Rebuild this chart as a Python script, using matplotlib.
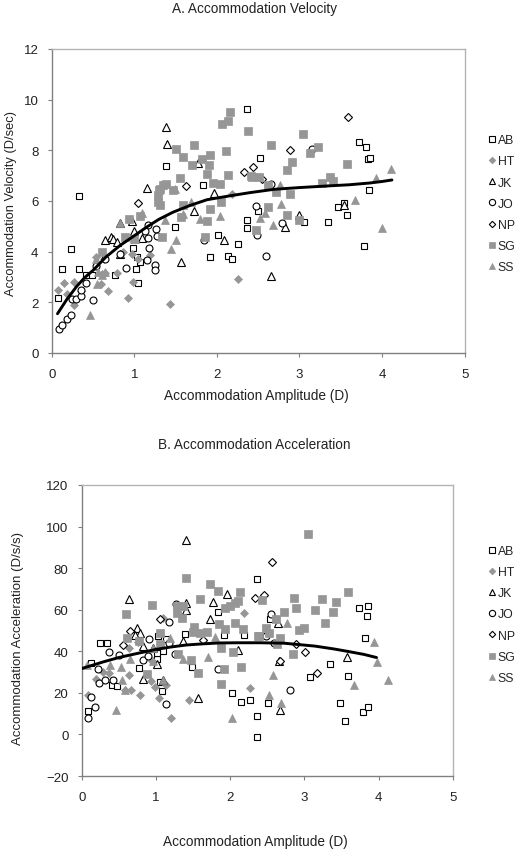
import matplotlib
matplotlib.use('Agg')
import matplotlib.pyplot as plt

plt.rcParams['font.family'] = ['Liberation Sans', 'DejaVu Sans']

names = ['AB', 'HT', 'JK', 'JO', 'NP', 'SG', 'SS']

# Panel A, velocity
a_ab_x = [0.08, 0.13, 0.23, 0.33, 0.33, 0.42, 0.49, 0.77, 0.98, 1.02, 1.05, 1.03, 1.07, 1.38, 1.49, 1.83, 1.92, 2.01, 2.13, 2.18, 2.26, 2.36, 2.36, 2.36, 2.52, 2.50, 3.47, 3.54, 3.58, 3.06, 3.34, 3.78, 3.84, 3.72, 3.81, 3.83, 3.85]
a_ab_y = [2.17, 3.33, 4.09, 6.18, 3.33, 3.09, 3.07, 3.09, 4.16, 3.33, 2.75, 3.79, 3.59, 7.39, 4.96, 6.63, 3.80, 4.64, 3.84, 3.72, 4.32, 5.25, 4.93, 9.62, 7.70, 5.60, 5.75, 5.93, 5.46, 5.16, 5.18, 4.21, 6.45, 8.34, 8.12, 7.64, 7.70]
a_ht_x = [0.08, 0.15, 0.27, 0.19, 0.27, 0.36, 0.54, 0.63, 0.68, 0.65, 0.79, 0.60, 0.93, 0.99, 1.43, 2.26, 0.86, 0.97, 1.05, 1.19, 2.18, 0.61]
a_ht_y = [2.49, 2.76, 2.80, 2.34, 1.91, 2.45, 3.79, 3.72, 2.43, 3.16, 3.16, 2.74, 2.18, 2.79, 1.93, 2.91, 3.99, 3.92, 3.72, 3.86, 6.26, 3.13]
a_jk_x = [0.64, 0.72, 0.74, 0.79, 0.83, 0.83, 1.00, 1.09, 1.16, 1.39, 1.40, 1.57, 1.72, 1.77, 1.96, 2.09, 0.97, 2.66, 2.83, 3.54, 3.00]
a_jk_y = [4.46, 4.58, 4.49, 4.37, 5.13, 3.92, 4.80, 4.54, 6.53, 8.92, 8.25, 3.61, 5.62, 7.50, 6.30, 4.46, 5.20, 3.03, 4.99, 5.83, 5.43]
a_jo_x = [0.09, 0.13, 0.18, 0.23, 0.25, 0.30, 0.36, 0.36, 0.42, 0.50, 0.54, 0.65, 0.90, 0.83, 1.18, 1.15, 1.25, 1.25, 1.26, 1.28, 1.17, 1.17, 1.13, 1.84, 2.47, 2.66, 2.79, 2.49, 2.59, 3.15]
a_jo_y = [0.93, 1.11, 1.36, 1.51, 2.12, 2.14, 2.26, 2.47, 2.76, 2.09, 3.43, 3.72, 3.37, 3.92, 4.16, 3.66, 3.49, 3.26, 4.88, 4.62, 4.54, 5.04, 4.80, 4.45, 5.79, 6.68, 5.12, 4.64, 3.83, 8.06]
a_np_x = [1.05, 1.63, 2.33, 2.44, 2.55, 2.88, 3.59]
a_np_y = [5.93, 6.58, 7.16, 7.36, 6.86, 8.03, 9.32]
a_sg_x = [0.94, 1.07, 0.89, 1.00, 0.61, 1.34, 1.86, 1.88, 1.92, 2.05, 1.57, 1.59, 1.55, 1.30, 1.29, 1.31, 1.39, 1.47, 1.50, 1.59, 1.72, 1.70, 1.82, 1.90, 1.92, 2.11, 1.88, 2.13, 1.95, 2.04, 2.06, 2.13, 2.16, 2.38, 2.41, 2.66, 3.04, 3.22, 3.13, 2.91, 2.85, 3.58, 2.42, 2.51, 2.62, 2.72, 2.88, 3.27, 3.37, 3.41, 2.62, 2.85, 2.99, 2.47, 1.29, 1.31, 1.35]
a_sg_y = [5.28, 5.39, 4.58, 4.51, 3.99, 4.57, 4.57, 5.22, 5.68, 5.95, 5.36, 5.86, 6.91, 6.42, 5.96, 5.83, 6.67, 6.42, 8.05, 7.75, 8.20, 7.43, 7.64, 7.41, 7.82, 7.97, 7.05, 7.03, 6.72, 6.66, 9.03, 9.17, 9.53, 8.75, 6.97, 8.22, 8.64, 8.14, 7.88, 7.54, 7.21, 7.45, 6.95, 6.95, 6.62, 6.36, 6.28, 6.72, 6.95, 6.79, 5.75, 5.45, 5.24, 4.86, 6.22, 6.49, 6.62]
a_ss_x = [0.46, 0.55, 0.65, 0.61, 0.83, 1.09, 1.50, 1.44, 1.49, 1.59, 1.69, 1.80, 2.04, 1.37, 1.01, 2.77, 2.78, 2.52, 2.58, 2.68, 3.67, 3.93, 4.11, 4.00, 0.56, 0.54]
a_ss_y = [1.50, 2.74, 3.20, 3.07, 5.13, 5.53, 4.46, 4.12, 6.46, 5.50, 5.96, 5.30, 5.41, 5.24, 4.51, 6.62, 5.88, 5.34, 5.53, 5.07, 6.05, 6.91, 7.26, 4.95, 3.20, 3.72]
a_fit_x = [0.07, 0.18, 0.30, 0.40, 0.50, 0.66, 0.83, 1.00, 1.15, 1.30, 1.47, 1.68, 1.88, 2.15, 2.40, 2.69, 3.00, 3.37, 3.60, 3.85, 4.00, 4.12]
a_fit_y = [1.55, 2.10, 2.62, 2.98, 3.26, 3.80, 4.25, 4.63, 4.97, 5.28, 5.56, 5.83, 6.05, 6.20, 6.33, 6.46, 6.53, 6.60, 6.64, 6.71, 6.77, 6.83]

# Panel B, acceleration
b_ab_x = [0.08, 0.13, 0.24, 0.34, 0.41, 0.48, 0.77, 1.02, 1.05, 1.08, 1.03, 1.14, 1.39, 1.49, 1.83, 1.92, 2.18, 2.02, 2.14, 2.27, 2.36, 2.36, 2.36, 1.10, 1.01, 2.53, 2.51, 3.07, 3.35, 3.59, 3.48, 3.55, 3.79, 3.85, 3.73, 3.86, 3.84, 3.82]
b_ab_y = [11.2, 34.5, 43.8, 44.2, 23.6, 23.2, 32.1, 36.5, 25.3, 20.7, 47.3, 46.0, 48.1, 32.4, 58.8, 47.9, 47.9, 19.9, 15.5, 16.5, 75.0, 9.0, -1.0, 40.1, 39.3, 55.6, 15.2, 27.7, 34.0, 28.0, 14.9, 6.25, 10.6, 13.0, 60.6, 61.7, 57.1, 46.2]
b_ht_x = [0.09, 0.19, 0.29, 0.37, 0.64, 0.67, 0.79, 0.58, 0.93, 0.99, 1.13, 1.04, 1.20, 1.44, 2.18, 2.27, 0.94, 0.64, 0.76, 1.10]
b_ht_y = [18.8, 26.9, 30.0, 29.6, 28.4, 21.3, 18.9, 21.2, 25.5, 22.9, 23.6, 17.3, 8.0, 16.7, 58.3, 22.1, 35.3, 41.7, 44.6, 56.1]
b_jk_x = [0.64, 0.74, 0.79, 0.72, 0.83, 0.83, 1.01, 1.10, 0.96, 1.36, 1.40, 1.40, 1.40, 1.77, 1.73, 1.96, 1.57, 2.10, 2.67, 2.66, 3.57, 2.64]
b_jk_y = [65.2, 51.0, 48.6, 47.8, 42.5, 26.8, 33.7, 26.3, 41.7, 44.9, 93.3, 59.8, 63.3, 63.8, 55.6, 67.6, 17.3, 40.4, 11.7, 35.3, 37.2, 53.7]
b_jo_x = [0.09, 0.18, 0.13, 0.22, 0.23, 0.31, 0.42, 0.37, 0.50, 0.82, 0.89, 0.91, 1.18, 1.27, 1.14, 1.17, 1.26, 1.84, 2.55, 2.48, 2.59, 2.80]
b_jo_y = [7.7, 13.1, 17.8, 31.7, 24.8, 26.0, 26.4, 39.6, 38.3, 35.6, 37.7, 46.0, 54.3, 62.7, 14.4, 44.1, 38.5, 31.6, 57.7, 47.3, 44.1, 21.2]
b_np_x = [0.65, 0.56, 1.05, 1.64, 2.33, 2.45, 2.56, 2.89, 3.01, 3.17, 2.67]
b_np_y = [49.8, 43.1, 55.6, 45.4, 65.7, 67.3, 83.0, 43.6, 39.6, 29.5, 35.3]
b_sg_x = [0.60, 0.61, 0.95, 1.40, 1.28, 1.37, 1.29, 1.35, 1.59, 1.73, 1.83, 2.13, 1.93, 2.00, 2.06, 2.11, 1.85, 1.93, 2.06, 2.17, 1.51, 1.50, 1.59, 1.69, 2.38, 1.88, 2.04, 2.14, 1.91, 1.88, 0.88, 1.57, 1.47, 1.30, 1.05, 1.05, 0.77, 2.43, 3.05, 3.58, 2.86, 3.23, 3.42, 2.89, 3.14, 3.38, 2.73, 2.62, 3.28, 3.00, 2.92, 2.48, 2.39, 2.52, 2.67, 2.63, 2.85]
b_sg_y = [57.7, 46.5, 62.5, 75.3, 62.0, 62.0, 58.5, 55.9, 65.2, 72.6, 69.2, 68.4, 60.9, 62.0, 63.3, 64.1, 52.9, 50.8, 53.7, 50.5, 51.9, 49.2, 48.6, 49.2, 47.3, 41.5, 39.7, 32.2, 31.3, 24.2, 29.0, 29.6, 35.7, 38.5, 48.6, 43.3, 44.9, 64.9, 96.2, 68.6, 65.4, 65.2, 63.8, 60.6, 60.1, 58.8, 58.7, 55.3, 53.5, 51.4, 50.2, 51.3, 47.4, 48.6, 46.3, 43.3, 38.5]
b_ss_x = [0.07, 0.38, 0.46, 0.54, 0.58, 0.53, 0.65, 0.96, 1.19, 1.37, 1.70, 1.80, 2.03, 1.10, 0.96, 2.52, 2.69, 2.58, 2.77, 3.67, 3.93, 3.97, 4.12]
b_ss_y = [33.3, 33.5, 11.9, 26.4, 21.6, 32.5, 36.1, 41.7, 46.5, 36.1, 37.2, 47.0, 7.7, 26.4, 35.3, 18.8, 14.9, 28.7, 53.4, 23.7, 44.4, 34.8, 26.1]
b_fit_x = [0.00, 0.29, 0.50, 0.74, 1.00, 1.19, 1.40, 1.64, 1.85, 2.09, 2.40, 2.72, 3.14, 3.40, 3.59, 3.80, 3.97]
b_fit_y = [31.7, 34.9, 37.0, 38.9, 40.9, 42.0, 43.0, 43.6, 44.0, 44.1, 44.1, 43.9, 42.5, 41.1, 39.9, 38.5, 37.0]

gray = '#969696'
ink = '#222222'
styles = [
    dict(marker='s', mfc='white', mec='black', ms=5.0, mew=0.8),
    dict(marker='D', mfc=gray, mec=gray, ms=3.8, mew=0.5),
    dict(marker='^', mfc='white', mec='black', ms=5.4, mew=0.8),
    dict(marker='o', mfc='white', mec='black', ms=5.0, mew=0.8),
    dict(marker='D', mfc='white', mec='black', ms=3.6, mew=0.8),
    dict(marker='s', mfc=gray, mec=gray, ms=5.2, mew=0.5),
    dict(marker='^', mfc=gray, mec=gray, ms=5.4, mew=0.5),
]
W, H = 520, 853


def panel(fig, box, xs, ys, fit_x, fit_y, ylim, yticks, legend_top):
    left, top, right, bottom = box
    ax = fig.add_axes([left / W, 1 - bottom / H, (right - left) / W, (bottom - top) / H])
    for i in range(len(names)):
        ax.plot(xs[i], ys[i], ls='none', label=names[i], zorder=3 + i, clip_on=False, **styles[i])
    ax.plot(fit_x, fit_y, color='black', lw=2.1, zorder=20, solid_capstyle='round')
    ax.set_xlim(0, 5)
    ax.set_ylim(*ylim)
    ax.set_xticks([0, 1, 2, 3, 4, 5])
    ax.set_yticks(yticks)
    ax.tick_params(labelsize=9.5, length=3, width=0.8, color='#808080', labelcolor=ink)
    ax.tick_params(axis='x', pad=7.5)
    ax.tick_params(axis='y', pad=6.5)
    for side in ['left', 'bottom']:
        ax.spines[side].set_color('#808080')
        ax.spines[side].set_linewidth(1.0)
    for side in ['top', 'right']:
        ax.spines[side].set_color('#b4b4b4')
        ax.spines[side].set_linewidth(1.0)
    handles, labels = ax.get_legend_handles_labels()
    fig.legend(handles, labels, loc='upper left', bbox_to_anchor=(488 / W, 1 - legend_top / H),
               frameon=False, fontsize=8.8, labelspacing=0.75, handlelength=0.6, handletextpad=0.2,
               borderpad=0, borderaxespad=0, markerscale=0.9, labelcolor=ink)
    return ax


def label(x, y, s, rotation=0, size=9.8):
    fig.text(x / W, 1 - y / H, s, ha='center', va='center', fontsize=size, rotation=rotation, color=ink)


fig = plt.figure(figsize=(5.2, 8.53), dpi=100)

panel(fig, (51.7, 50, 464.6, 354),
      [a_ab_x, a_ht_x, a_jk_x, a_jo_x, a_np_x, a_sg_x, a_ss_x],
      [a_ab_y, a_ht_y, a_jk_y, a_jo_y, a_np_y, a_sg_y, a_ss_y],
      a_fit_x, a_fit_y, (0, 12), [0, 2, 4, 6, 8, 10, 12], 135.2)

panel(fig, (81.7, 486, 453, 777),
      [b_ab_x, b_ht_x, b_jk_x, b_jo_x, b_np_x, b_sg_x, b_ss_x],
      [b_ab_y, b_ht_y, b_jk_y, b_jo_y, b_np_y, b_sg_y, b_ss_y],
      b_fit_x, b_fit_y, (-20, 120), [-20, 0, 20, 40, 60, 80, 100, 120], 546)

label(254, 9, 'A. Accommodation Velocity')
label(254, 445, 'B. Accommodation Acceleration')
label(256.5, 396, 'Accommodation Amplitude (D)')
label(255.6, 842, 'Accommodation Amplitude (D)')
label(11, 203, 'Accommodation Velocity (D/sec)', rotation=90, size=9.3)
label(18, 639, 'Accommodation Acceleration (D/s/s)', rotation=90, size=9.5)

fig.savefig('out.png', dpi=100)
